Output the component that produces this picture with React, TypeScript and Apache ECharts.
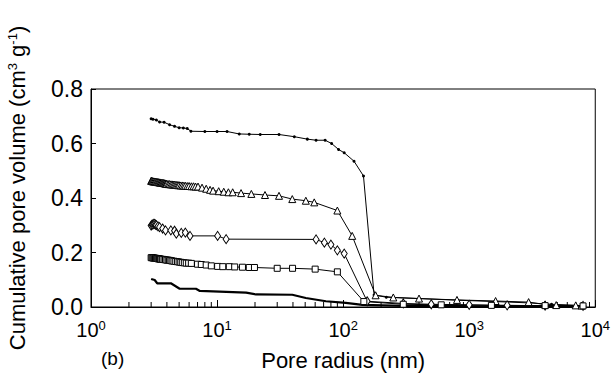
import React, { useEffect, useRef } from "react";
import * as echarts from "echarts";

// ---- data (pore radius nm, cumulative pore volume cm3/g) ----
const seriesDots: [number, number][] = [
  [3.0, 0.691], [3.1, 0.689], [3.3, 0.686], [3.5, 0.679], [3.8, 0.678], [4.2, 0.669],
  [4.6, 0.663], [5.0, 0.658], [5.4, 0.657], [5.8, 0.655], [6.2, 0.645], [8, 0.644],
  [10, 0.644], [12, 0.644], [15, 0.635], [18, 0.634], [22, 0.633], [31, 0.633],
  [41, 0.625], [52, 0.616], [61, 0.612], [72, 0.612], [81, 0.6], [92, 0.578],
  [102, 0.566], [122, 0.535], [145, 0.481], [176, 0.044], [220, 0.036], [400, 0.031],
  [800, 0.025], [1600, 0.02], [3000, 0.015], [4500, 0.01], [7000, 0.006], [8000, 0.005],
];

const seriesTriangles: [number, number][] = [
  [3.0, 0.463], [3.03, 0.463], [3.06, 0.462], [3.1, 0.461], [3.15, 0.461], [3.2, 0.46],
  [3.25, 0.46], [3.3, 0.459], [3.35, 0.459], [3.4, 0.458], [3.45, 0.458], [3.5, 0.457],
  [3.55, 0.457], [3.6, 0.456], [3.65, 0.456], [3.7, 0.455], [3.75, 0.455], [3.8, 0.454],
  [3.85, 0.454], [3.9, 0.453], [3.95, 0.453], [4.0, 0.452], [4.1, 0.451], [4.2, 0.451],
  [4.3, 0.45], [4.4, 0.45], [4.5, 0.449], [4.6, 0.449], [4.7, 0.448], [4.8, 0.448],
  [4.9, 0.447], [5.0, 0.447], [5.15, 0.446], [5.3, 0.446], [5.45, 0.445], [5.6, 0.445],
  [5.8, 0.444], [6.0, 0.444], [6.25, 0.443], [6.5, 0.443], [6.75, 0.442], [7.06, 0.442],
  [7.6, 0.438], [8.2, 0.434], [8.8, 0.43], [9.3, 0.427], [10.3, 0.425], [11.3, 0.423],
  [12.3, 0.421], [13.3, 0.421], [15.5, 0.418], [18.7, 0.415], [24, 0.411], [31, 0.408],
  [39.5, 0.396], [50.6, 0.39], [59, 0.384], [90, 0.354], [118, 0.261], [181, 0.043],
  [250, 0.035], [400, 0.031], [800, 0.026], [1620, 0.022], [2960, 0.018], [4000, 0.009],
  [4900, 0.007], [7000, 0.006], [7800, 0.005],
];

const seriesDiamonds: [number, number][] = [
  [3.0, 0.299], [3.05, 0.302], [3.1, 0.303], [3.15, 0.305], [3.2, 0.305], [3.25, 0.302],
  [3.3, 0.3], [3.4, 0.296], [3.5, 0.293], [3.7, 0.288], [3.9, 0.281], [4.3, 0.281],
  [4.6, 0.28], [4.75, 0.269], [5.2, 0.272], [5.6, 0.273], [6.1, 0.261], [10.1, 0.261],
  [11.8, 0.249], [61, 0.248], [71, 0.236], [80, 0.229], [90, 0.208], [102, 0.196],
  [155, 0.021], [300, 0.013], [500, 0.01], [1000, 0.008], [2000, 0.006], [4000, 0.005],
  [8000, 0.004],
];

const seriesSquares: [number, number][] = [
  [3.0, 0.181], [3.05, 0.181], [3.1, 0.18], [3.15, 0.18], [3.2, 0.179], [3.25, 0.179],
  [3.3, 0.178], [3.35, 0.178], [3.4, 0.177], [3.45, 0.177], [3.5, 0.176], [3.55, 0.176],
  [3.6, 0.175], [3.7, 0.175], [3.8, 0.174], [3.9, 0.173], [4.0, 0.172], [4.1, 0.172],
  [4.2, 0.171], [4.3, 0.17], [4.4, 0.169], [4.55, 0.168], [4.7, 0.167], [4.85, 0.166],
  [5.0, 0.165], [5.15, 0.164], [5.3, 0.163], [5.5, 0.162], [5.7, 0.161], [5.95, 0.161],
  [6.25, 0.16], [7.0, 0.157], [7.5, 0.156], [8.2, 0.154], [9.0, 0.151], [10.1, 0.149],
  [11.1, 0.148], [12.5, 0.148], [13.8, 0.147], [15.9, 0.146], [18, 0.145], [19.8, 0.145],
  [30, 0.142], [39.7, 0.142], [60, 0.139], [90, 0.129], [146, 0.02], [300, 0.01],
  [600, 0.008], [1500, 0.006], [4000, 0.005], [8000, 0.004],
];

const seriesThick: [number, number][] = [
  [3.0, 0.103], [3.2, 0.099], [3.35, 0.087], [4.3, 0.087], [5.05, 0.067], [6.8, 0.067],
  [7.3, 0.059], [17, 0.053], [20.4, 0.046], [39.5, 0.045], [50.6, 0.033], [73, 0.021],
  [105, 0.015], [142, 0.008], [300, 0.004], [1000, 0.003], [8000, 0.002],
];

const minorTickRadii: number[] = [
  2, 3, 4, 5, 6, 7, 8, 9,
  20, 30, 40, 50, 60, 70, 80, 90,
  200, 300, 400, 500, 600, 700, 800, 900,
  2000, 3000, 4000, 5000, 6000, 7000, 8000, 9000,
];

const FONT = "'Liberation Sans', Arial, sans-serif";

export default function App() {
  const ref = useRef<HTMLDivElement>(null);

  useEffect(() => {
    document.body.style.margin = "0";
    if (!ref.current) return;
    const chart = echarts.init(ref.current, undefined, { renderer: "svg" });

    const lineBase = {
      type: "line" as const,
      showAllSymbol: true,
      lineStyle: { color: "#000", width: 1 },
      z: 3,
    };

    chart.setOption({
      animation: false,
      backgroundColor: "#fff",
      textStyle: { fontFamily: FONT, color: "#000" },
      grid: {
        left: 91,
        right: 16,
        top: 89,
        bottom: 67,
        show: true,
        borderColor: "#000",
        borderWidth: 1,
        backgroundColor: "transparent",
      },
      xAxis: {
        type: "log",
        logBase: 10,
        min: 1,
        max: 10000,
        axisLine: { show: true, lineStyle: { color: "#000", width: 1 } },
        axisTick: { show: true, inside: true, length: 7, lineStyle: { color: "#000" } },
        splitLine: { show: false },
        axisLabel: {
          margin: 12,
          fontSize: 20,
          color: "#000",
          fontFamily: FONT,
          formatter: (v: number) => `10{sup|${Math.round(Math.log10(v))}}`,
          rich: {
            sup: {
              fontSize: 13,
              fontFamily: FONT,
              color: "#000",
              verticalAlign: "bottom",
              padding: [0, 0, 9, 0],
            },
          },
        },
        name: "Pore radius (nm)",
        nameLocation: "middle",
        nameGap: 42,
        nameTextStyle: { fontSize: 22, color: "#000", fontFamily: FONT },
      },
      yAxis: {
        type: "value",
        min: 0,
        max: 0.8,
        interval: 0.2,
        axisLine: { show: true, lineStyle: { color: "#000", width: 1 } },
        axisTick: { show: true, inside: true, length: 5, lineStyle: { color: "#000" } },
        splitLine: { show: false },
        axisLabel: {
          margin: 8,
          fontSize: 23,
          color: "#000",
          fontFamily: FONT,
          formatter: (v: number) => v.toFixed(1),
        },
      },
      graphic: [
        {
          type: "text",
          x: 17,
          y: 188,
          rotation: Math.PI / 2,
          style: {
            text: "Cumulative pore volume (cm{sup|3} g{sup|-1})",
            fontSize: 22,
            fontFamily: FONT,
            fill: "#000",
            align: "center",
            verticalAlign: "middle",
            rich: {
              sup: {
                fontSize: 13,
                fontFamily: FONT,
                fill: "#000",
                verticalAlign: "bottom",
                padding: [0, 0, 9, 0],
              },
            },
          },
        },
        {
          type: "text",
          x: 101,
          y: 349,
          style: { text: "(b)", fontSize: 19, fontFamily: FONT, fill: "#000" },
        },
      ],
      series: [
        {
          type: "custom",
          silent: true,
          z: 2,
          data: minorTickRadii.map((r) => [r, 0]),
          renderItem: (params: any, api: any) => {
            const p = api.coord([api.value(0), 0]);
            return {
              type: "line",
              shape: { x1: p[0], y1: p[1], x2: p[0], y2: p[1] - 5 },
              style: { stroke: "#000", lineWidth: 1 },
            };
          },
        },
        {
          ...lineBase,
          data: seriesDots,
          symbol: "circle",
          symbolSize: 3,
          itemStyle: { color: "#000" },
        },
        {
          ...lineBase,
          data: seriesTriangles,
          symbol: "triangle",
          symbolSize: 7,
          itemStyle: { color: "#fff", borderColor: "#000", borderWidth: 1 },
        },
        {
          ...lineBase,
          data: seriesDiamonds,
          symbol: "diamond",
          symbolSize: [6, 9],
          itemStyle: { color: "#fff", borderColor: "#000", borderWidth: 1 },
        },
        {
          ...lineBase,
          data: seriesSquares,
          symbol: "rect",
          symbolSize: 6,
          itemStyle: { color: "#fff", borderColor: "#000", borderWidth: 1 },
        },
        {
          ...lineBase,
          data: seriesThick,
          symbol: "none",
          lineStyle: { color: "#000", width: 2.2 },
        },
      ],
    });

    return () => chart.dispose();
  }, []);

  return (
    <div
      ref={ref}
      style={{ position: "absolute", left: 0, top: 0, width: 613, height: 376 }}
    />
  );
}
